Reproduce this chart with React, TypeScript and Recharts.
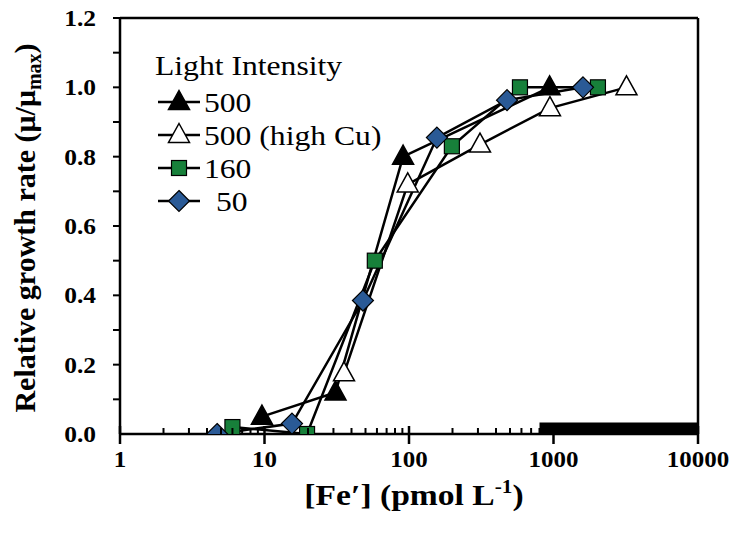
import React from "react";
import {
  LineChart,
  Line,
  XAxis,
  YAxis,
  ReferenceArea,
  ReferenceLine,
  Legend,
} from "recharts";

// ---------- data ----------
const xMajorTicks = [1, 10, 100, 1000, 10000];
const xMinorTicks = [
  2, 3, 4, 5, 6, 7, 8, 9, 20, 30, 40, 50, 60, 70, 80, 90, 200, 300, 400, 500,
  600, 700, 800, 900, 2000, 3000, 4000, 5000, 6000, 7000, 8000, 9000,
];
const yTicks = [0, 0.1, 0.2, 0.3, 0.4, 0.5, 0.6, 0.7, 0.8, 0.9, 1.0, 1.1, 1.2];
const yLabelTicks = [0, 0.2, 0.4, 0.6, 0.8, 1.0, 1.2];

const legendTitle = "Light Intensity";
const seriesNames = ["500", "500 (high Cu)", "160", "50"];

const light500 = [
  { x: 9.6, y: 0.05 },
  { x: 31, y: 0.12 },
  { x: 91, y: 0.8 },
  { x: 940, y: 1.0 },
];
const light500HighCu = [
  { x: 35.5, y: 0.175 },
  { x: 98, y: 0.72 },
  { x: 310, y: 0.835 },
  { x: 945, y: 0.94 },
  { x: 3200, y: 1.0 },
];
const light160 = [
  { x: 6, y: 0.02 },
  { x: 19.7, y: 0.0 },
  { x: 58, y: 0.5 },
  { x: 198, y: 0.83 },
  { x: 586, y: 1.0 },
  { x: 2030, y: 1.0 },
];
const light50 = [
  { x: 4.7, y: 0.0 },
  { x: 15.5, y: 0.03 },
  { x: 48, y: 0.385 },
  { x: 156, y: 0.855 },
  { x: 477, y: 0.963 },
  { x: 1600, y: 1.0 },
];

const blackBand = { x1: 800, x2: 10000, y1: 0, y2: 0.033 };

// ---------- styles ----------
const SERIF = "'Liberation Serif', 'Times New Roman', Times, 'DejaVu Serif', serif";
const GREEN = "#17803a";
const BLUE = "#2a5a96";

const SText = ({
  x,
  y,
  size,
  bold = false,
  anchor = "start",
  sx = 1.1,
  children,
}: any) => (
  <g transform={`translate(${x},${y}) scale(${sx},1)`}>
    <text
      x={0}
      y={0}
      textAnchor={anchor}
      fill="#000"
      style={{
        fontFamily: SERIF,
        fontSize: size,
        fontWeight: bold ? 700 : 400,
      }}
    >
      {children}
    </text>
  </g>
);

// ---------- markers ----------
const Tri = ({ cx, cy, fill }: any) => (
  <polygon
    points={`${cx},${cy - 11.5} ${cx + 10.5},${cy + 7.5} ${cx - 10.5},${cy + 7.5}`}
    fill={fill}
    stroke="#000"
    strokeWidth={1.5}
  />
);
const Sq = ({ cx, cy }: any) => (
  <rect
    x={cx - 7.5}
    y={cy - 7.5}
    width={15}
    height={15}
    fill={GREEN}
    stroke="#000"
    strokeWidth={1.2}
  />
);
const Dia = ({ cx, cy }: any) => (
  <polygon
    points={`${cx},${cy - 10.5} ${cx + 10.5},${cy} ${cx},${cy + 10.5} ${cx - 10.5},${cy}`}
    fill={BLUE}
    stroke="#000"
    strokeWidth={1.2}
  />
);

const markerFor = (i: number, cx: number, cy: number) => {
  if (i === 0) return <Tri cx={cx} cy={cy} fill="#000" />;
  if (i === 1) return <Tri cx={cx} cy={cy} fill="#fff" />;
  if (i === 2) return <Sq cx={cx} cy={cy} />;
  return <Dia cx={cx} cy={cy} />;
};

// ---------- ticks ----------
const XTick = (props: any) => {
  const { x, y, payload } = props;
  const v = payload.value;
  const major = xMajorTicks.includes(v);
  if (major) {
    return (
      <g>
        <line x1={x} x2={x} y1={y - 8} y2={y + 10} stroke="#000" strokeWidth={2.5} />
        <SText x={x} y={y + 33} size={24} bold anchor="middle" sx={1.04}>
          {String(v)}
        </SText>
      </g>
    );
  }
  return <line x1={x} x2={x} y1={y - 6} y2={y} stroke="#000" strokeWidth={2} />;
};

const YTick = (props: any) => {
  const { x, y, payload } = props;
  const v = payload.value;
  const labeled = yLabelTicks.some((t) => Math.abs(t - v) < 1e-9);
  return (
    <g>
      {v > 0.001 && (
        <line x1={x - 7} x2={x} y1={y} y2={y} stroke="#000" strokeWidth={2} />
      )}
      {labeled && (
        <SText x={x - 24} y={y + 8} size={24} bold anchor="end" sx={1.06}>
          {v.toFixed(1)}
        </SText>
      )}
    </g>
  );
};

const YTitle = () => (
  <text
    transform="translate(35,228) rotate(-90)"
    textAnchor="middle"
    fill="#000"
    style={{ fontFamily: SERIF, fontSize: 30, fontWeight: 700 }}
  >
    Relative growth rate (μ/μ
    <tspan style={{ fontSize: 20 }} dy={6}>
      max
    </tspan>
    <tspan dy={-6}>)</tspan>
  </text>
);

const XTitle = () => (
  <SText x={414} y={505} size={30} bold anchor="middle" sx={1.12}>
    [Fe′] (pmol L
    <tspan style={{ fontSize: 19 }} dy={-12}>
      -1
    </tspan>
    <tspan dy={12}>)</tspan>
  </SText>
);

// ---------- legend ----------
const LegendBox = () => {
  const rowsY = [57, 90, 123, 156];
  const textX = [64, 64, 64, 76];
  return (
    <svg width={260} height={180} style={{ overflow: "visible", display: "block" }}>
      <SText x={15} y={30} size={28} sx={1.13}>
        {legendTitle}
      </SText>
      {seriesNames.map((name, i) => (
        <g key={name}>
          <line x1={18} x2={60} y1={rowsY[i]} y2={rowsY[i]} stroke="#000" strokeWidth={2.5} />
          {markerFor(i, 39, rowsY[i])}
          <SText x={textX[i]} y={rowsY[i] + 10} size={28} sx={1.13}>
            {name}
          </SText>
        </g>
      ))}
    </svg>
  );
};

const allXTicks = [...xMajorTicks, ...xMinorTicks].sort((a, b) => a - b);

export default function App() {
  const seriesData = [light500, light500HighCu, light160, light50];
  return (
    <div
      style={{
        position: "absolute",
        left: 0,
        top: 0,
        width: 746,
        height: 539,
        background: "#fff",
        fontFamily: SERIF,
      }}
    >
      <LineChart
        width={746}
        height={539}
        margin={{ top: 18, right: 48, bottom: 0, left: 0 }}
      >
        <XAxis
          type="number"
          dataKey="x"
          scale="log"
          domain={[1, 10000]}
          ticks={allXTicks}
          interval={0}
          tickLine={false}
          tickSize={0}
          tickMargin={0}
          tick={<XTick />}
          height={105}
          axisLine={{ stroke: "#000", strokeWidth: 2.5 }}
          allowDataOverflow
          label={<XTitle />}
        />
        <YAxis
          type="number"
          dataKey="y"
          domain={[0, 1.2]}
          ticks={yTicks}
          interval={0}
          tickLine={false}
          tickSize={0}
          tickMargin={0}
          tick={<YTick />}
          width={120}
          axisLine={{ stroke: "#000", strokeWidth: 2.5 }}
          allowDataOverflow
          label={<YTitle />}
        />
        <ReferenceLine y={1.2} stroke="#000" strokeWidth={2.5} />
        <ReferenceLine x={10000} stroke="#000" strokeWidth={2.5} />
        <ReferenceArea
          x1={blackBand.x1}
          x2={blackBand.x2}
          y1={blackBand.y1}
          y2={blackBand.y2}
          fill="#000"
          fillOpacity={1}
          stroke="none"
        />
        {seriesData.map((d, i) => (
          <Line
            key={seriesNames[i]}
            data={d}
            dataKey="y"
            name={seriesNames[i]}
            type="linear"
            stroke="#000"
            strokeWidth={2.5}
            isAnimationActive={false}
            activeDot={false}
            dot={(p: any) => (
              <g key={`d${i}-${p.index}`}>{markerFor(i, p.cx, p.cy)}</g>
            )}
          />
        ))}
        <Legend
          layout="vertical"
          align="center"
          verticalAlign="middle"
          content={<LegendBox />}
          wrapperStyle={{ left: 140, top: 45, width: 260, height: 180 }}
        />
      </LineChart>
    </div>
  );
}
